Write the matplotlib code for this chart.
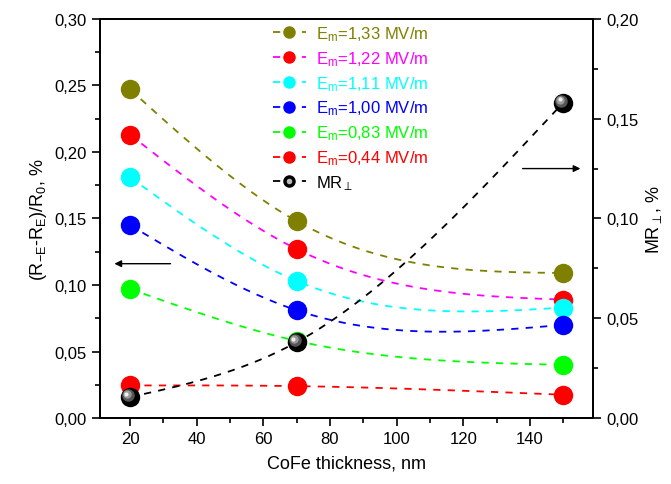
import matplotlib
matplotlib.use("Agg")
import matplotlib.pyplot as plt
import numpy as np
from matplotlib.ticker import MultipleLocator, FuncFormatter
from matplotlib.legend_handler import HandlerTuple
import matplotlib.transforms as mtransforms

plt.rcParams['font.family'] = ['Liberation Sans', 'DejaVu Sans']
plt.rcParams['mathtext.fontset'] = 'custom'
plt.rcParams['mathtext.rm'] = 'Liberation Sans'
plt.rcParams['mathtext.it'] = 'Liberation Sans'

# data
thickness = [20, 70, 150]
fields = ["1,33", "1,22", "1,11", "1,00", "0,83", "0,44"]
dR = [
    [0.247, 0.148, 0.109],
    [0.213, 0.127, 0.089],
    [0.181, 0.103, 0.083],
    [0.145, 0.081, 0.070],
    [0.097, 0.058, 0.040],
    [0.0245, 0.024, 0.0175],
]
mr_perp = [0.0105, 0.038, 0.158]

line_colors = ["#808000", "#FF00FF", "#00FFFF", "#0000FF", "#00FF00", "#FF0000"]
marker_colors = ["#808000", "#FF0000", "#00FFFF", "#0000FF", "#00FF00", "#FF0000"]


def natural_spline(x, y, n=80):
    # natural cubic spline through the points (Origin style "spline" connection)
    x = np.asarray(x, float)
    y = np.asarray(y, float)
    k = len(x)
    h = np.diff(x)
    A = np.zeros((k, k))
    r = np.zeros(k)
    A[0, 0] = A[-1, -1] = 1
    for i in range(1, k - 1):
        A[i, i - 1] = h[i - 1]
        A[i, i] = 2 * (h[i - 1] + h[i])
        A[i, i + 1] = h[i]
        r[i] = 6 * ((y[i + 1] - y[i]) / h[i] - (y[i] - y[i - 1]) / h[i - 1])
    M = np.linalg.solve(A, r)
    xs, ys = [], []
    for i in range(k - 1):
        t = np.linspace(x[i], x[i + 1], n)
        hi = h[i]
        s = (M[i] * (x[i + 1] - t) ** 3 / (6 * hi) + M[i + 1] * (t - x[i]) ** 3 / (6 * hi)
             + (y[i] / hi - M[i] * hi / 6) * (x[i + 1] - t)
             + (y[i + 1] / hi - M[i + 1] * hi / 6) * (t - x[i]))
        xs.append(t)
        ys.append(s)
    return np.concatenate(xs), np.concatenate(ys)


fig = plt.figure(figsize=(6.71, 4.85), dpi=100)
ax = fig.add_axes([0.149, 0.136, 0.735, 0.823])
ax2 = ax.twinx()

handles = []
labels = []
for vals, lc, mc, f in zip(dR, line_colors, marker_colors, fields):
    sx, sy = natural_spline(thickness, vals)
    ax.plot(sx, sy, color=lc, lw=1.3, dashes=(4, 4))
    ax.plot(thickness, vals, 'o', color=mc, ms=14, mec='none', zorder=3)
    h, = ax.plot([], [], color=lc, lw=1.3, dashes=(4, 4), marker='o', ms=9,
                 mfc=mc, mec='none')
    handles.append(h)
    labels.append("E$_{\\mathregular{m}}$=" + f + " MV/m")

sx, sy = natural_spline(thickness, mr_perp)
ax2.plot(sx, sy, color='black', lw=1.3, dashes=(4, 4))
ax2.plot(thickness, mr_perp, 'o', color='black', ms=14, mec='none', zorder=3)
# shiny highlight
for sz, c, dx, dy in [(9, '#555555', -1.5, 1.5), (6, '#999999', -2, 2), (3, '#eeeeee', -2.5, 2.5)]:
    tr = mtransforms.offset_copy(ax2.transData, fig=fig, x=dx, y=dy, units='points')
    ax2.plot(thickness, mr_perp, 'o', color=c, ms=sz, mec='none', zorder=4, transform=tr)

hb, = ax2.plot([], [], color='black', lw=1.3, dashes=(4, 4), marker='o', ms=9, mec='none')
hh, = ax2.plot([], [], ls='none', marker='o', ms=4, color='#bbbbbb', mec='none')
handles.append((hb, hh))
labels.append("MR$_{\\perp}$")

leg = ax2.legend(handles, labels, loc='upper left', bbox_to_anchor=(0.33, 1.012),
                 frameon=False, fontsize=12, handlelength=2.0, handletextpad=0.6,
                 labelspacing=0.37, borderaxespad=0.2,
                 handler_map={tuple: HandlerTuple(ndivide=1)})
for t, c in zip(leg.get_texts(), line_colors + ['black']):
    t.set_color(c)

# arrows
ax.annotate("", xy=(14.5, 0.116), xytext=(33, 0.116),
            arrowprops=dict(arrowstyle='-|>', color='black', lw=1, mutation_scale=10))
ax2.annotate("", xy=(156, 0.125), xytext=(137, 0.125),
             arrowprops=dict(arrowstyle='-|>', color='black', lw=1, mutation_scale=10))

ax.set_xlim(11, 159)
ax.set_ylim(0, 0.30)
ax2.set_ylim(0, 0.20)

comma = FuncFormatter(lambda v, pos: ("%.2f" % v).replace('.', ','))
ax.yaxis.set_major_formatter(comma)
ax2.yaxis.set_major_formatter(comma)
ax.xaxis.set_major_locator(MultipleLocator(20))
ax.xaxis.set_minor_locator(MultipleLocator(10))
ax.yaxis.set_major_locator(MultipleLocator(0.05))
ax.yaxis.set_minor_locator(MultipleLocator(0.025))
ax2.yaxis.set_major_locator(MultipleLocator(0.05))
ax2.yaxis.set_minor_locator(MultipleLocator(0.025))

for a in (ax, ax2):
    a.tick_params(which='major', direction='out', length=6, width=1.2, labelsize=12)
    a.tick_params(which='minor', direction='out', length=3.5, width=1.2)
    for s in a.spines.values():
        s.set_linewidth(1.3)
ax.tick_params(axis='y', right=False)

ax.set_xlabel("CoFe thickness, nm", fontsize=13, labelpad=6)
ax.set_ylabel("(R$_{\\mathregular{-E}}$-R$_{\\mathregular{E}}$)/R$_{\\mathregular{0}}$, %", fontsize=13)
ax2.set_ylabel("MR$_{\\perp}$, %", fontsize=13)

fig.savefig("out.png", dpi=100)
